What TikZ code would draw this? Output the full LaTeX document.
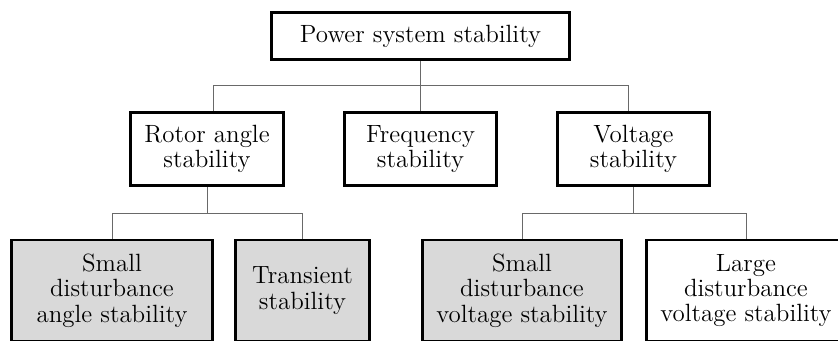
\documentclass[tikz,border=0pt]{standalone}
\definecolor{subgray}{RGB}{217,217,217}
\definecolor{linegray}{RGB}{105,105,105}

\begin{document}
\begin{tikzpicture}[
    box/.style={draw, line width=1.5pt, minimum width=3.05cm, minimum height=1.47cm,
                align=center, font=\fontsize{14.2}{14.4}\selectfont},
    sub/.style={box, minimum height=2.02cm},
    link/.style={draw=linegray, line width=0.55pt}
  ]
  \clip (0,0) rectangle (16.76,-6.8);

  \node[box, minimum width=5.97cm, minimum height=0.95cm] (power) at (8.41,-0.72)
    {Power system stability};

  \node[box] (rotor) at (4.14,-2.98) {Rotor angle\\stability};
  \node[box] (freq) at (8.41,-2.98) {Frequency\\stability};
  \node[box] (volt) at (12.67,-2.98) {Voltage\\stability};

  \node[sub, fill=subgray, minimum width=4.03cm] (smallangle) at (2.24,-5.81)
    {Small\\disturbance\\angle stability};
  \node[sub, fill=subgray, minimum width=2.69cm] (transient) at (6.05,-5.81)
    {Transient\\stability};
  \node[sub, fill=subgray, minimum width=3.99cm] (smallvolt) at (10.44,-5.81)
    {Small\\disturbance\\voltage stability};
  \node[sub, minimum width=3.99cm] (largevolt) at (14.92,-5.81)
    {Large\\disturbance\\voltage stability};

  \draw[link] (power.south) -- (freq.north);
  \draw[link] ([xshift=0.12cm]rotor.north) -- ++(0,0.5) -| ([xshift=-0.11cm]volt.north);

  \draw[link] (rotor.south) -- ++(0,-0.54);
  \draw[link] (smallangle.north) -- ++(0,0.5) -| (transient.north);

  \draw[link] (volt.south) -- ++(0,-0.54);
  \draw[link] (smallvolt.north) -- ++(0,0.5) -| (largevolt.north);
\end{tikzpicture}
\end{document}
